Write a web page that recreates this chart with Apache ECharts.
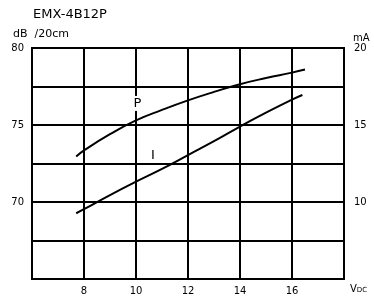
<!DOCTYPE html>
<html>
<head>
<meta charset="utf-8">
<script src="https://cdn.jsdelivr.net/npm/echarts@6/dist/echarts.min.js"></script>
<style>
html, body { margin: 0; padding: 0; background: #fff; }
#chart { width: 374px; height: 298px; }
</style>
</head>
<body>
<div id="chart"></div>
<script>
// sound pressure P (dB /20cm) and current I (mA) vs supply voltage
var voltsP = [7.7, 8, 9, 10, 11, 12, 13, 14, 15, 16, 16.5];
var levelP = [72.95, 73.35, 74.4, 75.3, 75.98, 76.6, 77.15, 77.65, 78.05, 78.4, 78.6];
var voltsI = [7.7, 8, 9, 10, 11, 12, 13, 14, 15, 16, 16.4];
var currentI = [9.27, 9.53, 10.45, 11.32, 12.15, 13.05, 13.95, 14.9, 15.8, 16.65, 16.95];
var xTicks = [8, 10, 12, 14, 16];
var dbTicks = [70, 75, 80];
var maTicks = [10, 15, 20];

var font = 'DejaVu Sans';
var chart = echarts.init(document.getElementById('chart'));

function pairs(xs, ys) {
    return xs.map(function (x, i) { return [x, ys[i]]; });
}

// text placed on the curve, like the hand labels on the datasheet
function curveLabel(text, at, bg) {
    return {
        symbol: 'circle',
        symbolSize: 1,
        itemStyle: { color: 'rgba(0,0,0,0)' },
        label: {
            show: true, position: 'inside', formatter: text,
            fontFamily: font, fontSize: 13, color: '#000',
            backgroundColor: bg ? '#fff' : 'transparent', padding: [1, 1],
            textBorderWidth: 0, textBorderColor: 'transparent'
        },
        data: [{ coord: at }]
    };
}

var option = {
    animation: false,
    backgroundColor: '#fff',
    title: {
        text: 'EMX-4B12P',
        left: 28,
        top: 3,
        textStyle: { fontFamily: font, fontSize: 13, fontWeight: 'normal', color: '#000' }
    },
    grid: { left: 32, right: 30, top: 48, bottom: 19, show: true, borderColor: '#000', borderWidth: 2 },
    xAxis: {
        type: 'value',
        min: 6, max: 18, interval: 2,
        name: '{v|V}{s|DC}',
        nameLocation: 'end',
        nameGap: 6,
        nameTextStyle: {
            verticalAlign: 'top',
            padding: [5, 0, 0, 0],
            rich: {
                v: { fontFamily: font, fontSize: 10, color: '#000' },
                s: { fontFamily: font, fontSize: 7, color: '#000', verticalAlign: 'bottom', padding: [3, 0, 0, 0] }
            }
        },
        axisLine: { show: false },
        axisTick: { show: false },
        axisLabel: {
            margin: 7,
            fontFamily: font, fontSize: 10, color: '#000',
            formatter: function (v) { return xTicks.indexOf(v) >= 0 ? String(v) : ''; }
        },
        splitLine: { lineStyle: { color: '#000', width: 2 } }
    },
    yAxis: [
        {
            type: 'value',
            min: 65, max: 80, interval: 2.5,
            name: 'dB  /20cm',
            nameLocation: 'end',
            nameGap: 8,
            nameTextStyle: { fontFamily: font, fontSize: 11, color: '#000', align: 'left', padding: [0, 0, 0, -19] },
            axisLine: { show: false },
            axisTick: { show: false },
            axisLabel: {
                margin: 8,
                fontFamily: font, fontSize: 10, color: '#000',
                formatter: function (v) { return dbTicks.indexOf(v) >= 0 ? String(v) : ''; }
            },
            splitLine: { lineStyle: { color: '#000', width: 2 } }
        },
        {
            type: 'value',
            min: 5, max: 20, interval: 2.5,
            name: 'mA',
            nameLocation: 'end',
            nameGap: 5,
            nameTextStyle: { fontFamily: font, fontSize: 10, color: '#000', align: 'left', padding: [0, 0, 0, 9] },
            axisLine: { show: false },
            axisTick: { show: false },
            axisLabel: {
                margin: 10,
                fontFamily: font, fontSize: 10, color: '#000',
                formatter: function (v) { return maTicks.indexOf(v) >= 0 ? String(v) : ''; }
            },
            splitLine: { show: false }
        }
    ],
    series: [
        {
            name: 'P',
            type: 'line',
            yAxisIndex: 0,
            smooth: true,
            showSymbol: false,
            lineStyle: { color: '#000', width: 2 },
            data: pairs(voltsP, levelP),
            markPoint: curveLabel('P', [10.05, 76.4], true)
        },
        {
            name: 'I',
            type: 'line',
            yAxisIndex: 1,
            smooth: true,
            showSymbol: false,
            lineStyle: { color: '#000', width: 2 },
            data: pairs(voltsI, currentI),
            markPoint: curveLabel('I', [10.65, 13.0], false)
        }
    ]
};
chart.setOption(option, true);
</script>
</body>
</html>
